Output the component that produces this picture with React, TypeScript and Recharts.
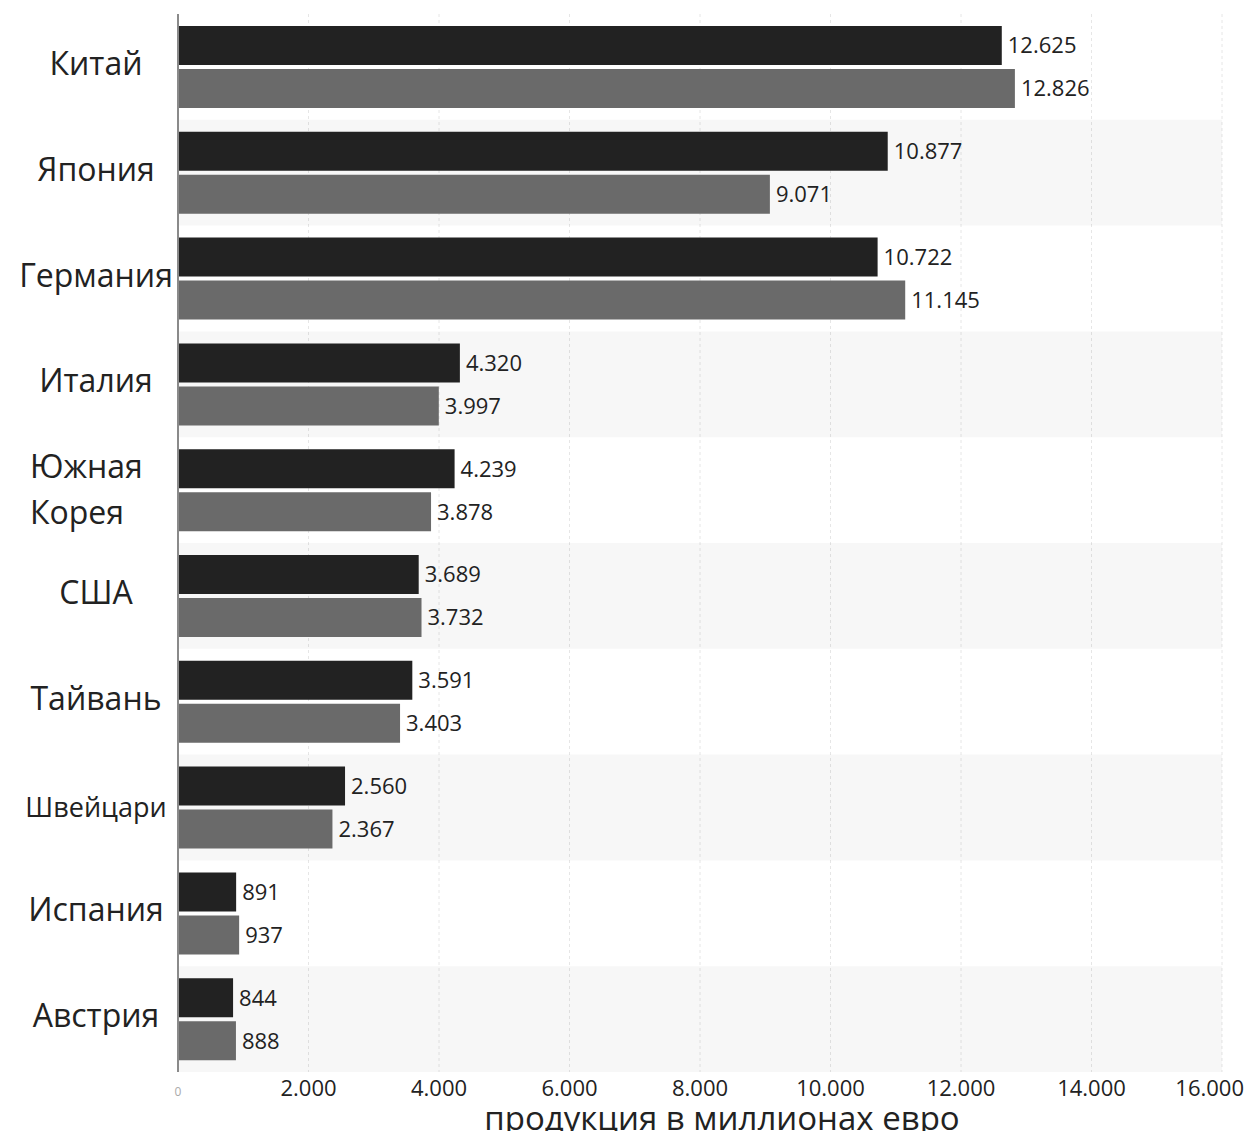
import React from 'react';
import { BarChart, Bar, XAxis, YAxis, CartesianGrid, ReferenceArea, LabelList, Label } from 'recharts';

const categories = ['Китай', 'Япония', 'Германия', 'Италия', 'Южная Корея', 'США', 'Тайвань', 'Швейцари', 'Испания', 'Австрия'];
const darkValues = [12625, 10877, 10722, 4320, 4239, 3689, 3591, 2560, 891, 844];
const greyValues = [12826, 9071, 11145, 3997, 3878, 3732, 3403, 2367, 937, 888];
const xTicks = [0, 2000, 4000, 6000, 8000, 10000, 12000, 14000, 16000];
const axisTitle = 'продукция в миллионах евро';

const FONT = '"Open Sans", "Noto Sans", sans-serif';

const data = categories.map((name, i) => ({ name, a: darkValues[i], b: greyValues[i] }));

const fmt = (v: any) => String(v).replace(/\B(?=(\d{3})+(?!\d))/g, '.');

function XTick({ x, y, payload }: any) {
  if (payload.value === 0) {
    return (
      <text x={x} y={y + 16} textAnchor="middle" fontFamily={FONT} fontSize={12} fill="#aaa">0</text>
    );
  }
  const last = payload.value === xTicks[xTicks.length - 1];
  return (
    <text x={last ? x + 22 : x} y={y + 16} textAnchor={last ? 'end' : 'middle'} fontFamily={FONT} fontSize={22} fill="#222">{fmt(payload.value)}</text>
  );
}

function YTick({ y, payload }: any) {
  const label: string = payload.value;
  if (label === 'Южная Корея') {
    const [l1, l2] = label.split(' ');
    return (
      <text fontFamily={FONT} fontSize={32} fill="#222" textAnchor="start">
        <tspan x={30} y={y - 12}>{l1}</tspan>
        <tspan x={30} y={y + 34}>{l2}</tspan>
      </text>
    );
  }
  const small = label === 'Швейцари';
  return (
    <text x={96} y={y + (small ? 9 : 8)} textAnchor="middle" fontFamily={FONT} fontSize={small ? 27 : 32} fill="#222">{label}</text>
  );
}

export default function App() {
  const shaded = categories.filter((_, i) => i % 2 === 1);
  return (
    <div style={{ position: 'absolute', left: 0, top: 0, background: '#fff' }}>
      <BarChart
        width={1249}
        height={1131}
        data={data}
        layout="vertical"
        margin={{ top: 14, right: 27, left: 0, bottom: 0 }}
        barSize={39}
        barGap={4}
      >
        {shaded.map((c) => (
          <ReferenceArea key={c} y1={c} y2={c} x1={0} x2={16000} fill="#000" fillOpacity={0.03} stroke="none" ifOverflow="visible" />
        ))}
        <CartesianGrid horizontal={false} stroke="#e6e6e6" strokeDasharray="3 3" />
        <XAxis
          type="number"
          domain={[0, 16000]}
          ticks={xTicks}
          interval={0}
          axisLine={false}
          tickLine={false}
          height={59}
          tick={<XTick />}
        >
          <Label
            value={axisTitle}
            position="insideBottom"
            offset={1}
            dx={22}
            style={{ fontFamily: FONT, fontSize: 33, fill: '#222' }}
          />
        </XAxis>
        <YAxis
          type="category"
          dataKey="name"
          width={178}
          axisLine={{ stroke: '#8a8a8a', strokeWidth: 2 }}
          tickLine={false}
          interval={0}
          tick={<YTick />}
        />
        <Bar dataKey="a" fill="#222222" isAnimationActive={false}>
          <LabelList dataKey="a" position="right" offset={6} formatter={fmt} style={{ fontFamily: FONT, fontSize: 22, fill: '#222' }} />
        </Bar>
        <Bar dataKey="b" fill="#6a6a6a" isAnimationActive={false}>
          <LabelList dataKey="b" position="right" offset={6} formatter={fmt} style={{ fontFamily: FONT, fontSize: 22, fill: '#222' }} />
        </Bar>
      </BarChart>
    </div>
  );
}
